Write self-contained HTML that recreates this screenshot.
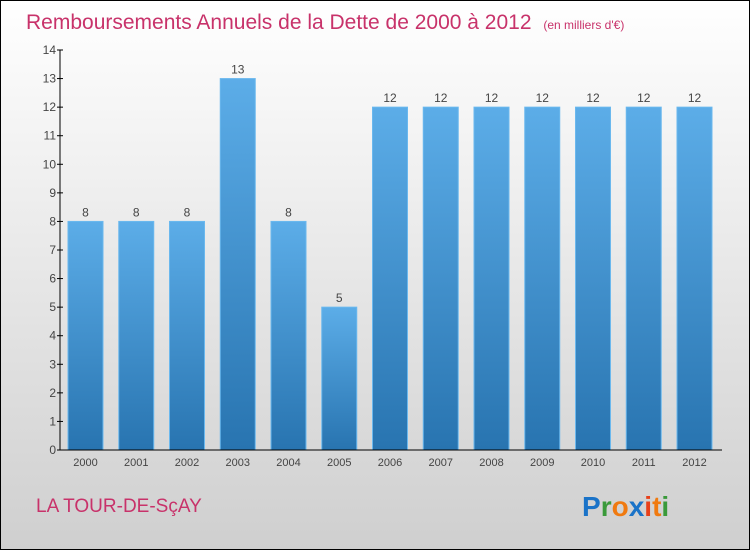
<!DOCTYPE html>
<html><head><meta charset="utf-8"><style>
body{margin:0;width:750px;height:550px;overflow:hidden}
svg{display:block;font-family:"Liberation Sans",sans-serif}
</style></head><body>
<svg width="750" height="550">
<defs>
<linearGradient id="bg" x1="0" y1="0" x2="0" y2="1"><stop offset="0" stop-color="#ffffff"/><stop offset="1" stop-color="#cfcfcf"/></linearGradient>
<linearGradient id="bar" x1="0" y1="0" x2="0" y2="1"><stop offset="0" stop-color="#5cade8"/><stop offset="1" stop-color="#2874b0"/></linearGradient>
</defs>
<rect x="0.5" y="0.5" width="749" height="549" fill="url(#bg)" stroke="#000"/>
<text x="26" y="29" font-size="21" fill="#c8326a">Remboursements Annuels de la Dette de 2000 à 2012 <tspan font-size="12" dx="6">(en milliers d'€)</tspan></text>
<g id="plot"></g>
<text x="36" y="512" font-size="19" fill="#c8326a">LA TOUR-DE-SçAY</text>
<g font-size="28" font-weight="bold">
<text x="582" y="516"><tspan fill="#1a73c8">P</tspan><tspan fill="#3a9a3a">r</tspan><tspan fill="#f07a10">o</tspan><tspan fill="#1a73c8">x</tspan><tspan fill="#e8401a">i</tspan><tspan fill="#f07a10">t</tspan><tspan fill="#3a9a3a">i</tspan></text>
</g>
</svg>
<script>
const categories=["2000","2001","2002","2003","2004","2005","2006","2007","2008","2009","2010","2011","2012"];
const values=[8,8,8,13,8,5,12,12,12,12,12,12,12];
const yTicks=[0,1,2,3,4,5,6,7,8,9,10,11,12,13,14];
const NS="http://www.w3.org/2000/svg";
const g=document.getElementById('plot');
const y=v=>450-v*400/14;
const x=i=>85.5+i*50.75;
function mk(t,a,txt){const e=document.createElementNS(NS,t);for(const k in a)e.setAttribute(k,a[k]);if(txt!=null)e.textContent=txt;g.appendChild(e);return e;}
values.forEach((v,i)=>{
 const r=mk('rect',{x:x(i)-17.5,y:y(v),width:35,height:450-y(v),fill:'url(#bar)',stroke:'#6ab8ee','stroke-width':1});
 
 
 const l=mk('text',{x:x(i),y:y(v)-5,'text-anchor':'middle','font-size':12,fill:'#444'},v);
 
 
 const c=mk('text',{x:x(i),y:466,'text-anchor':'middle','font-size':11,fill:'#444'},categories[i]);
 
 
});
yTicks.forEach(t=>{
 const tk=mk('line',{x1:57,x2:63,y1:y(t),y2:y(t),stroke:'#000'});
 
 
 const tl=mk('text',{x:56,y:y(t)+4,'text-anchor':'end','font-size':12,fill:'#444'},t);
 
 
});
const ya=mk('line',{x1:60,x2:60,y1:50,y2:450,stroke:'#000'});


const xa=mk('line',{x1:60,x2:722,y1:450,y2:450,stroke:'#000'});


</script>
</body></html>
